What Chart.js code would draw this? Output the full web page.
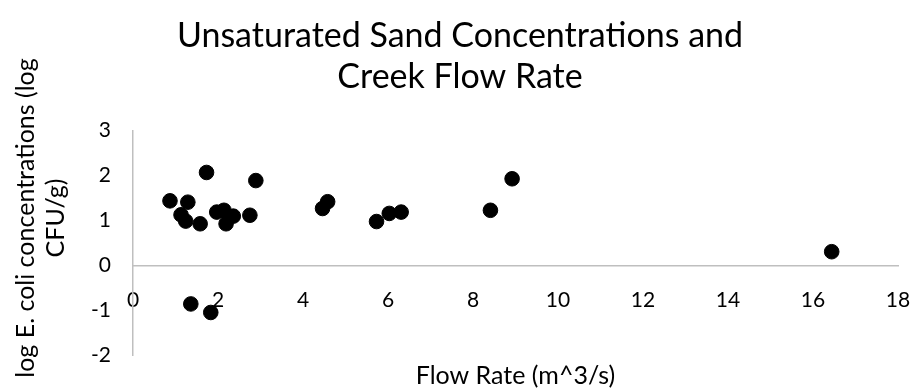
<!DOCTYPE html>
<html>
<head>
<meta charset="utf-8">
<script src="https://cdn.jsdelivr.net/npm/chart.js@4.4.1/dist/chart.umd.min.js"></script>
<style>
  html, body { margin: 0; padding: 0; background: #ffffff; }
  #wrap { width: 914px; height: 391px; }
</style>
</head>
<body>
<div id="wrap"><canvas id="chart" width="914" height="391"></canvas></div>
<script>
// Creek flow rate (m^3/s) and matching E. coli concentration in unsaturated sand (log CFU/g)
const flowRate = [0.87, 1.29, 1.73, 2.89, 1.13, 1.24, 1.58, 1.97, 2.14, 2.36, 2.19, 2.75,
                  4.46, 4.58, 5.73, 6.03, 6.31, 8.41, 8.92, 16.44, 1.36, 1.83];
const logConc  = [1.44, 1.41, 2.07, 1.89, 1.13, 0.99, 0.93, 1.19, 1.23, 1.10, 0.93, 1.12,
                  1.27, 1.42, 0.98, 1.16, 1.19, 1.23, 1.93, 0.31, -0.85, -1.04];

const xTicks = [0, 2, 4, 6, 8, 10, 12, 14, 16, 18];
const yTicks = [-2, -1, 0, 1, 2, 3];

const titleLines = ['Unsaturated Sand Concentrations and', 'Creek Flow Rate'];
const xTitle = 'Flow Rate (m^3/s)';
const yTitleLines = ['log E. coli concentrations (log', 'CFU/g)'];

const FONT = 'Lato, "Open Sans", sans-serif';
const TEXT = '#000000';
const AXIS = '#bfbfbf';

const points = flowRate.map((x, i) => ({ x, y: logConc[i] }));

// Rotated two-line caption for the value axis
const yCaption = {
  id: 'yCaption',
  afterDraw(chart) {
    const ctx = chart.ctx;
    ctx.save();
    ctx.translate(41, 218);
    ctx.rotate(-Math.PI / 2);
    ctx.fillStyle = TEXT;
    ctx.font = '25px ' + FONT;
    ctx.textAlign = 'center';
    ctx.textBaseline = 'middle';
    ctx.fillText(yTitleLines[0], 0, -15);
    ctx.fillText(yTitleLines[1], 0, 15);
    ctx.restore();
  }
};

new Chart(document.getElementById('chart'), {
  type: 'scatter',
  data: {
    datasets: [{
      data: points,
      backgroundColor: '#000000',
      borderColor: '#000000',
      pointRadius: 7.3,
      pointHoverRadius: 7.3
    }]
  },
  options: {
    responsive: false,
    animation: false,
    events: [],
    layout: { padding: { left: 22, right: 16, top: 16, bottom: 0 } },
    plugins: {
      legend: { display: false },
      tooltip: { enabled: false },
      title: {
        display: true,
        text: titleLines,
        color: TEXT,
        font: { family: FONT, size: 34, weight: 'normal', lineHeight: 1.2 },
        padding: { top: 0, bottom: 33 }
      }
    },
    scales: {
      x: {
        type: 'linear',
        position: { y: 0 },
        min: 0, max: 18,
        afterBuildTicks(s) { s.ticks = xTicks.map(v => ({ value: v })); },
        afterFit(s) { s.height = 0; s.paddingLeft = 0; s.paddingRight = 0; },
        grid: { display: false, drawTicks: false },
        border: { display: true, color: AXIS, width: 1.5 },
        ticks: { color: TEXT, font: { family: FONT, size: 21 }, padding: 22, maxRotation: 0, autoSkip: false }
      },
      xCaption: {
        type: 'linear',
        axis: 'x',
        position: 'bottom',
        min: 0, max: 18,
        afterFit(s) { s.height = 35.3; },
        grid: { display: false, drawTicks: false },
        border: { display: false },
        ticks: { display: false },
        title: { display: true, text: xTitle, color: TEXT, font: { family: FONT, size: 25 }, padding: { top: 0, bottom: 0 } }
      },
      y: {
        type: 'linear',
        min: -2, max: 3,
        afterBuildTicks(s) { s.ticks = yTicks.map(v => ({ value: v })); },
        afterFit(s) { s.width = 111; },
        grid: { display: false, drawTicks: false },
        border: { display: true, color: AXIS, width: 1.5 },
        ticks: { color: TEXT, font: { family: FONT, size: 21 }, padding: 22 }
      }
    }
  },
  plugins: [yCaption]
});
</script>
</body>
</html>
